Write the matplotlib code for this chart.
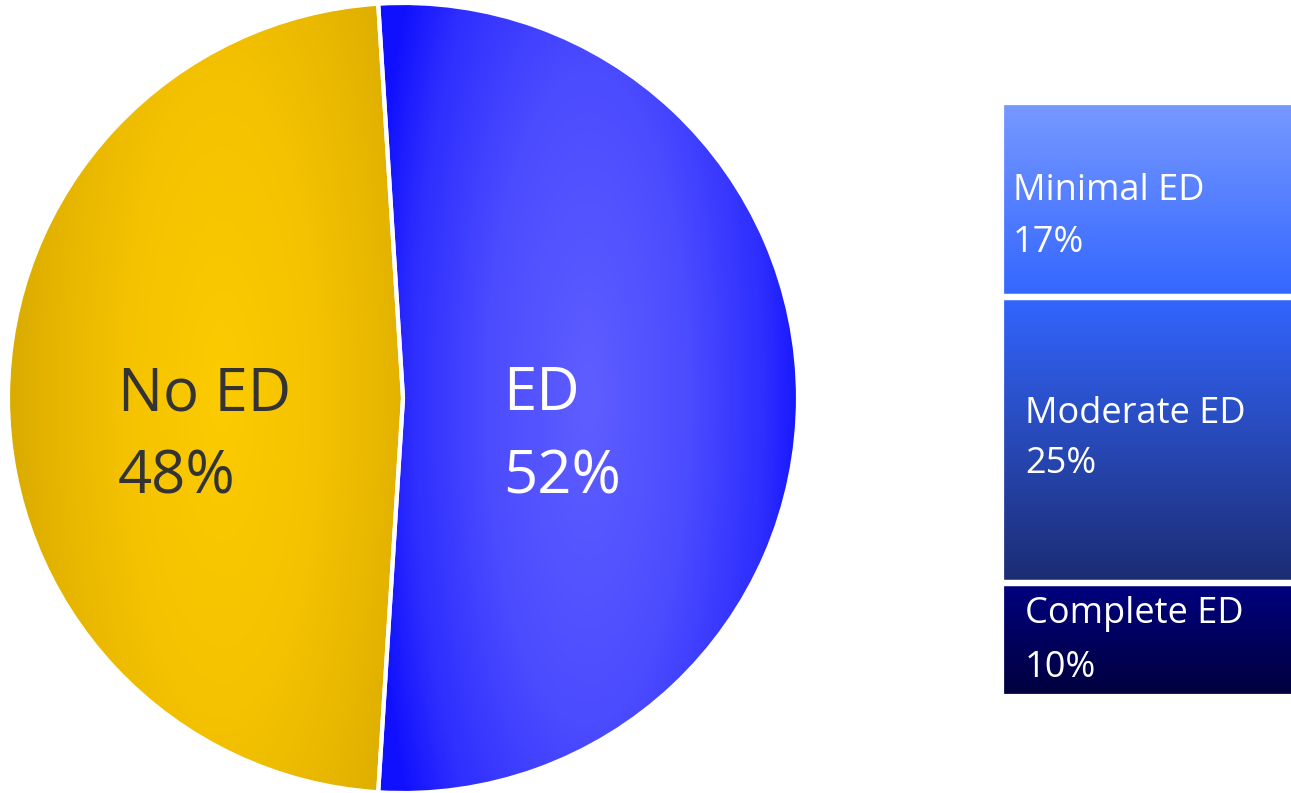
import numpy as np
import matplotlib.pyplot as plt
from matplotlib.colors import LinearSegmentedColormap

plt.rcParams['font.family'] = ['Open Sans', 'DejaVu Sans']

# data
pie_labels = ['ED', 'No ED']
pie_values = [52, 48]
bar_labels = ['Complete ED', 'Moderate ED', 'Minimal ED']
bar_values = [10, 25, 17]

W, H = 1291, 793
fig = plt.figure(figsize=(W / 100, H / 100), dpi=100)


def px(x, y):
    return x / W, 1 - y / H


# pie
ax = fig.add_axes([8 / W, 0 / H, 790 / W, 790 / H])
ax.axis('off')

wedges, _ = ax.pie(pie_values, startangle=90 + 3.6, counterclock=False, radius=1,
                   wedgeprops=dict(facecolor='none', edgecolor='white', linewidth=3))
ax.set_xlim(-1, 1)
ax.set_ylim(-1, 1)

xx, yy = np.meshgrid(np.linspace(-1, 1, 700), np.linspace(1, -1, 700))
pie_cmaps = [
    LinearSegmentedColormap.from_list('ed', [(0, '#5e5eff'), (0.45, '#4c4cff'),
                                              (0.8, '#2e2eff'), (1, '#1010ff')]),
    LinearSegmentedColormap.from_list('noed', [(0, '#fdcb00'), (0.45, '#f4c200'),
                                                (0.8, '#e4b300'), (1, '#d6aa00')]),
]
focus = [(0.47, 0.0), (-0.46, 0.0)]
for w, cm, (fx, fy) in zip(wedges, pie_cmaps, focus):
    d = np.sqrt(((xx - fx) / 0.56) ** 2 + ((yy - fy) / 1.8) ** 2)
    d = np.clip(d, 0, 1)
    im = ax.imshow(d, cmap=cm, extent=(-1, 1, -1, 1), vmin=0, vmax=1, zorder=0.5)
    im.set_clip_path(w)
for w in wedges:
    w.set_zorder(2)

# pie labels
pie_text = [('ED', '52%', 503, 'white'), ('No ED', '48%', 118, '#333333')]
for name, pct, x, c in pie_text:
    fig.text(*px(x, 410), name, fontsize=43, color=c, va='baseline', ha='left')
    fig.text(*px(x, 493), pct, fontsize=43, color=c, va='baseline', ha='left')

# stacked bar
bx = fig.add_axes([1001 / W, (H - 697) / H, 295 / W, 595 / H])
bx.set_xlim(-0.5, 0.5)
bx.set_ylim(0, sum(bar_values))
bx.axis('off')
bottoms = np.concatenate([[0], np.cumsum(bar_values)[:-1]])
bars = bx.bar(0, bar_values, bottom=bottoms, width=1, color='none',
              edgecolor='white', linewidth=4.5)
bar_grads = [
    ('#000080', '#00003c'),
    ('#3366ff', '#1c2c72'),
    ('#7799ff', '#3366ff'),
]
for b, (top, bot), v, b0 in zip(bars, bar_grads, bar_values, bottoms):
    cm = LinearSegmentedColormap.from_list('g', [top, bot])
    grad = np.linspace(0, 1, 256).reshape(-1, 1)
    im = bx.imshow(grad, cmap=cm, extent=(-0.5, 0.5, b0, b0 + v), aspect='auto', zorder=0.5)
    im.set_clip_path(b)
    b.set_zorder(2)

bar_text = [('Complete ED', '10%', 1025, 623, 677),
            ('Moderate ED', '25%', 1025, 423, 473),
            ('Minimal ED', '17%', 1013, 200, 252)]
for name, pct, x, y1, y2 in bar_text:
    fig.text(*px(x, y1), name, fontsize=26, color='white', va='baseline', ha='left')
    fig.text(*px(x, y2), pct, fontsize=26, color='white', va='baseline', ha='left')

fig.savefig('out.png', dpi=100)
